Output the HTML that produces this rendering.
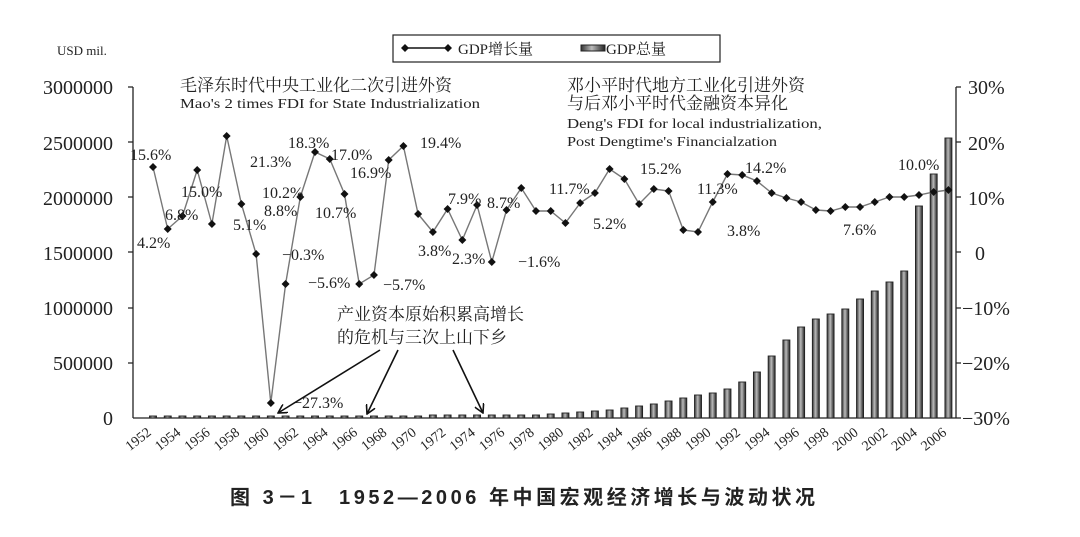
<!DOCTYPE html>
<html><head><meta charset="utf-8"><style>
html,body{margin:0;padding:0;background:#fff;}
svg{display:block;}
text{font-family:"Liberation Serif","Noto Serif CJK SC",serif;fill:#222;}
.cn{font-family:"Liberation Serif","Noto Serif CJK SC",serif;}
</style></head><body>
<svg width="1080" height="537" viewBox="0 0 1080 537" xmlns="http://www.w3.org/2000/svg">
<defs>
<linearGradient id="bg" x1="0" x2="1" y1="0" y2="0">
<stop offset="0" stop-color="#333"/><stop offset="0.45" stop-color="#bbb"/><stop offset="1" stop-color="#222"/>
</linearGradient>
<marker id="ah" markerWidth="10" markerHeight="10" refX="9" refY="5" orient="auto" markerUnits="userSpaceOnUse">
<path d="M0,0 L9,5 L0,10" fill="none" stroke="#111" stroke-width="1.6"/>
</marker>
</defs>
<text x="57" y="55" font-size="13">USD mil.</text>
<rect x="393" y="35" width="327" height="27" fill="#fff" stroke="#222" stroke-width="1.2"/>
<line x1="405" y1="48" x2="448" y2="48" stroke="#111" stroke-width="1.5"/>
<path d="M405,44 l4,4 l-4,4 l-4,-4z M448,44 l4,4 l-4,4 l-4,-4z" fill="#111"/>
<text x="458" y="54" font-size="15" class="cn">GDP增长量</text>
<rect x="581" y="45" width="24" height="6" fill="url(#bg)" stroke="#222"/>
<text x="606" y="54" font-size="15" class="cn">GDP总量</text>
<g font-size="20" text-anchor="end">
<text x="113" y="94">3000000</text><text x="113" y="150">2500000</text><text x="113" y="205">2000000</text>
<text x="113" y="260">1500000</text><text x="113" y="315">1000000</text><text x="113" y="370">500000</text><text x="113" y="425">0</text>
</g>
<g font-size="20">
<text x="968" y="94">30%</text><text x="968" y="150">20%</text><text x="968" y="205">10%</text>
<text x="975" y="260">0</text><text x="962" y="315">−10%</text><text x="962" y="370">−20%</text><text x="962" y="425">−30%</text>
</g>
<g stroke="#222" stroke-width="1.3" fill="none">
<line x1="133" y1="87" x2="133" y2="418"/>
<line x1="956" y1="87" x2="956" y2="418"/>
<line x1="133" y1="418" x2="956" y2="418"/>
<path d="M128,87h5M128,142h5M128,197h5M128,252h5M128,308h5M128,363h5M956,87h5M956,142h5M956,197h5M956,252h5M956,308h5M956,363h5M956,418h5"/>
</g>
<g id="bars"></g>
<polyline id="line" fill="none" stroke="#777" stroke-width="1.4"/>
<g id="pts" fill="#111"></g>
<g id="xl" font-size="14"></g>
<g font-size="16">
<text x="130" y="160">15.6%</text><text x="137" y="248">4.2%</text><text x="165" y="220">6.8%</text>
<text x="181" y="197">15.0%</text><text x="250" y="167">21.3%</text><text x="233" y="230">5.1%</text>
<text x="262" y="198">10.2%</text><text x="264" y="216">8.8%</text><text x="282" y="260">−0.3%</text>
<text x="293" y="408">−27.3%</text><text x="288" y="148">18.3%</text><text x="331" y="160">17.0%</text>
<text x="315" y="218">10.7%</text><text x="350" y="178">16.9%</text><text x="308" y="288">−5.6%</text>
<text x="383" y="290">−5.7%</text><text x="420" y="148">19.4%</text><text x="448" y="204">7.9%</text>
<text x="418" y="256">3.8%</text><text x="452" y="264">2.3%</text><text x="487" y="208">8.7%</text>
<text x="518" y="267">−1.6%</text><text x="549" y="194">11.7%</text><text x="593" y="229">5.2%</text>
<text x="640" y="174">15.2%</text><text x="697" y="194">11.3%</text><text x="727" y="236">3.8%</text>
<text x="745" y="173">14.2%</text><text x="843" y="235">7.6%</text><text x="898" y="170">10.0%</text>
</g>
<text x="180" y="91" font-size="17" class="cn">毛泽东时代中央工业化二次引进外资</text>
<text x="180" y="108" font-size="14" textLength="300" lengthAdjust="spacingAndGlyphs">Mao's 2 times FDI for State Industrialization</text>
<text x="567" y="91" font-size="17" class="cn">邓小平时代地方工业化引进外资</text>
<text x="567" y="109" font-size="17" class="cn">与后邓小平时代金融资本异化</text>
<text x="567" y="128" font-size="14" textLength="255" lengthAdjust="spacingAndGlyphs">Deng's FDI for local industrialization,</text>
<text x="567" y="146" font-size="14" textLength="210" lengthAdjust="spacingAndGlyphs">Post Dengtime's Financialzation</text>
<text x="337" y="320" font-size="17" class="cn">产业资本原始积累高增长</text>
<text x="337" y="343" font-size="17" class="cn">的危机与三次上山下乡</text>
<g stroke="#111" stroke-width="1.6" fill="none" marker-end="url(#ah)">
<line x1="380" y1="350" x2="278" y2="413"/>
<line x1="398" y1="350" x2="367" y2="414"/>
<line x1="453" y1="350" x2="483" y2="413"/>
</g>
<text x="230" y="504" font-size="20" font-weight="bold" textLength="585" lengthAdjust="spacing" style="font-family:'Liberation Sans','Noto Sans CJK SC',sans-serif">图 3－1　1952—2006 年中国宏观经济增长与波动状况</text>
<script>
var ys=[167,229,216,170,224,136,204,254,403,284,197,152,159,194,284,275,160,146,214,232,209,240,205,262,210,188,211,211,223,203,193,169,179,204,189,191,230,232,202,174,175,181,193,198,202,210,211,207,207,202,197,197,195,192,190];
var bt=[];for(var i=0;i<19;i++)bt.push(416);for(i=0;i<8;i++)bt.push(415);
bt=bt.concat([414,413,412,411,410,408,406,404,401,398,395,393,389,382,372,356,340,327,319,314,309,299,291,282,271,206,174,138]);
var NS="http://www.w3.org/2000/svg",bars=document.getElementById('bars'),pts=document.getElementById('pts'),xl=document.getElementById('xl'),p=[];
for(i=0;i<55;i++){var x=153+i*14.73;
 var r=document.createElementNS(NS,'rect');var t=bt[i];
 r.setAttribute('x',x-3.5);r.setAttribute('y',t);r.setAttribute('width',7);r.setAttribute('height',418-t);
 r.setAttribute('fill','url(#bg)');r.setAttribute('stroke','#222');r.setAttribute('stroke-width','0.9');bars.appendChild(r);
 p.push(x.toFixed(1)+','+ys[i]);
 var d=document.createElementNS(NS,'path');d.setAttribute('d','M'+x+','+(ys[i]-4)+'l4,4l-4,4l-4,-4z');pts.appendChild(d);
 if(i%2==0){var ax=x-1,ay=434;var tx=document.createElementNS(NS,'text');tx.setAttribute('x',ax);tx.setAttribute('y',ay);tx.setAttribute('text-anchor','end');
  tx.setAttribute('transform','rotate(-38 '+ax+' '+ay+')');tx.textContent=1952+i;xl.appendChild(tx);}
}
document.getElementById('line').setAttribute('points',p.join(' '));
</script>
</svg>
</body></html>
